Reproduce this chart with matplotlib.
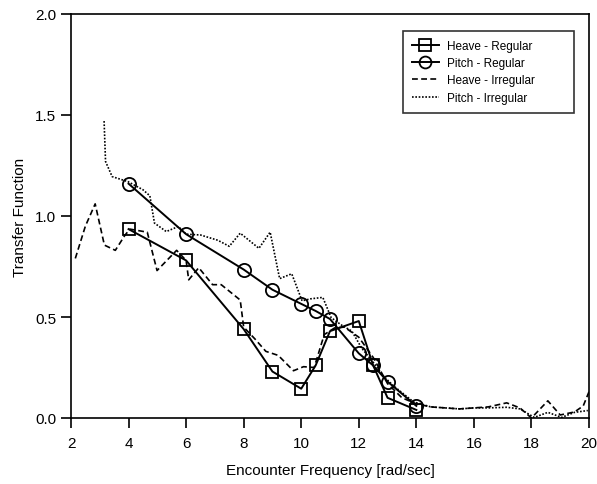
import matplotlib
matplotlib.use("Agg")
import matplotlib.pyplot as plt

plt.rcParams['font.family'] = ['Liberation Sans Narrow', 'Liberation Sans', 'DejaVu Sans']

# Regular-wave test points
freq_reg = [4, 6, 8, 9, 10, 10.5, 11, 12, 12.5, 13, 14]
heave_reg = [0.935, 0.78, 0.44, 0.23, 0.145, 0.26, 0.43, 0.48, 0.26, 0.10, 0.04]
freq_pitch_reg = [4, 6, 8, 9, 10, 10.5, 11, 12, 12.5, 13, 14]
pitch_reg = [1.16, 0.91, 0.735, 0.635, 0.565, 0.53, 0.49, 0.32, 0.26, 0.18, 0.06]

# Irregular-wave spectral estimates
freq_heave_irr = [2.15, 2.5, 2.84, 3.16, 3.54, 3.88, 4.05, 4.65, 4.99, 5.67, 6.0, 6.09,
                  6.44, 6.92, 7.22, 7.88, 8.0, 8.4, 8.77, 9.2, 9.73, 10.08, 10.45, 10.8,
                  11.16, 11.5, 12.0, 12.5, 13.0, 13.5, 14.0, 14.5, 15.0, 15.5, 16.0,
                  16.5, 17.14, 17.6, 18.0, 18.57, 19.0, 19.5, 19.8, 20.0]
heave_irr = [0.79, 0.95, 1.06, 0.856, 0.83, 0.906, 0.935, 0.92, 0.73, 0.83, 0.78, 0.684,
             0.744, 0.66, 0.66, 0.584, 0.45, 0.39, 0.33, 0.31, 0.234, 0.254, 0.25, 0.413,
             0.446, 0.45, 0.40, 0.30, 0.17, 0.10, 0.07, 0.055, 0.05, 0.045, 0.05,
             0.055, 0.075, 0.05, 0.0, 0.085, 0.015, 0.03, 0.06, 0.13]
freq_pitch_irr = [3.15, 3.2, 3.43, 3.98, 4.5, 4.74, 4.9, 5.31, 5.73, 6.0, 6.5, 7.1, 7.5,
                  7.88, 8.53, 8.92, 9.25, 9.67, 10.03, 10.33, 10.75, 11.04, 11.4, 11.76,
                  12.1, 12.48, 12.84, 13.2, 13.55, 13.9, 14.5, 15.0, 15.5, 16.0, 16.5,
                  17.14, 17.6, 18.1, 18.57, 19.05, 19.5, 19.96]
pitch_irr = [1.47, 1.27, 1.195, 1.17, 1.13, 1.10, 0.965, 0.923, 0.948, 0.91, 0.906, 0.88,
             0.85, 0.915, 0.84, 0.92, 0.69, 0.714, 0.58, 0.59, 0.597, 0.497, 0.46, 0.43,
             0.346, 0.28, 0.21, 0.16, 0.12, 0.08, 0.055, 0.05, 0.045, 0.05, 0.05,
             0.053, 0.045, 0.003, 0.028, 0.003, 0.028, 0.037]

x_ticks = [2, 4, 6, 8, 10, 12, 14, 16, 18, 20]
y_ticks = [0.0, 0.5, 1.0, 1.5, 2.0]

fig = plt.figure(figsize=(5.97, 4.85), dpi=100)
ax = fig.add_axes([71 / 597, 1 - 419 / 485, (589 - 71) / 597, (419 - 15) / 485])

ax.plot(freq_reg, heave_reg, color='black', lw=1.4, marker='s', ms=9,
        mfc='none', mec='black', mew=1.3, label='Heave - Regular')
ax.plot(freq_pitch_reg, pitch_reg, color='black', lw=1.4, marker='o', ms=9.5,
        mfc='none', mec='black', mew=1.3, label='Pitch - Regular')
ax.plot(freq_heave_irr, heave_irr, color='black', lw=1.2, ls=(0, (3.5, 2)),
        label='Heave - Irregular')
ax.plot(freq_pitch_irr, pitch_irr, color='black', lw=1.2, ls=(0, (1, 1)),
        label='Pitch - Irregular')

ax.set_xlim(2, 20)
ax.set_ylim(0, 2.0)
ax.set_xticks(x_ticks)
ax.set_yticks(y_ticks)
ax.set_yticklabels([f"{v:.1f}" for v in y_ticks])
ax.tick_params(direction='out', length=7, width=1.2, labelsize=11, colors='black')
ax.tick_params(axis='x', pad=6)
for s in ax.spines.values():
    s.set_linewidth(1.2)

ax.set_xlabel('Encounter Frequency [rad/sec]', fontsize=11, labelpad=9)
ax.set_ylabel('Transfer Function', fontsize=11, labelpad=6)

# legend box stretched to a fixed width in the upper right corner
leg = ax.legend(loc='upper left', bbox_to_anchor=(0.641, 0.5, 0.330, 0.458),
                mode='expand', fontsize=8.5, frameon=True, fancybox=False,
                edgecolor='black', handlelength=2.3, handletextpad=0.7,
                labelspacing=0.45, borderpad=0.75, markerscale=0.9, borderaxespad=0)
leg.get_frame().set_linewidth(1.2)

fig.savefig('out.png', dpi=100)
